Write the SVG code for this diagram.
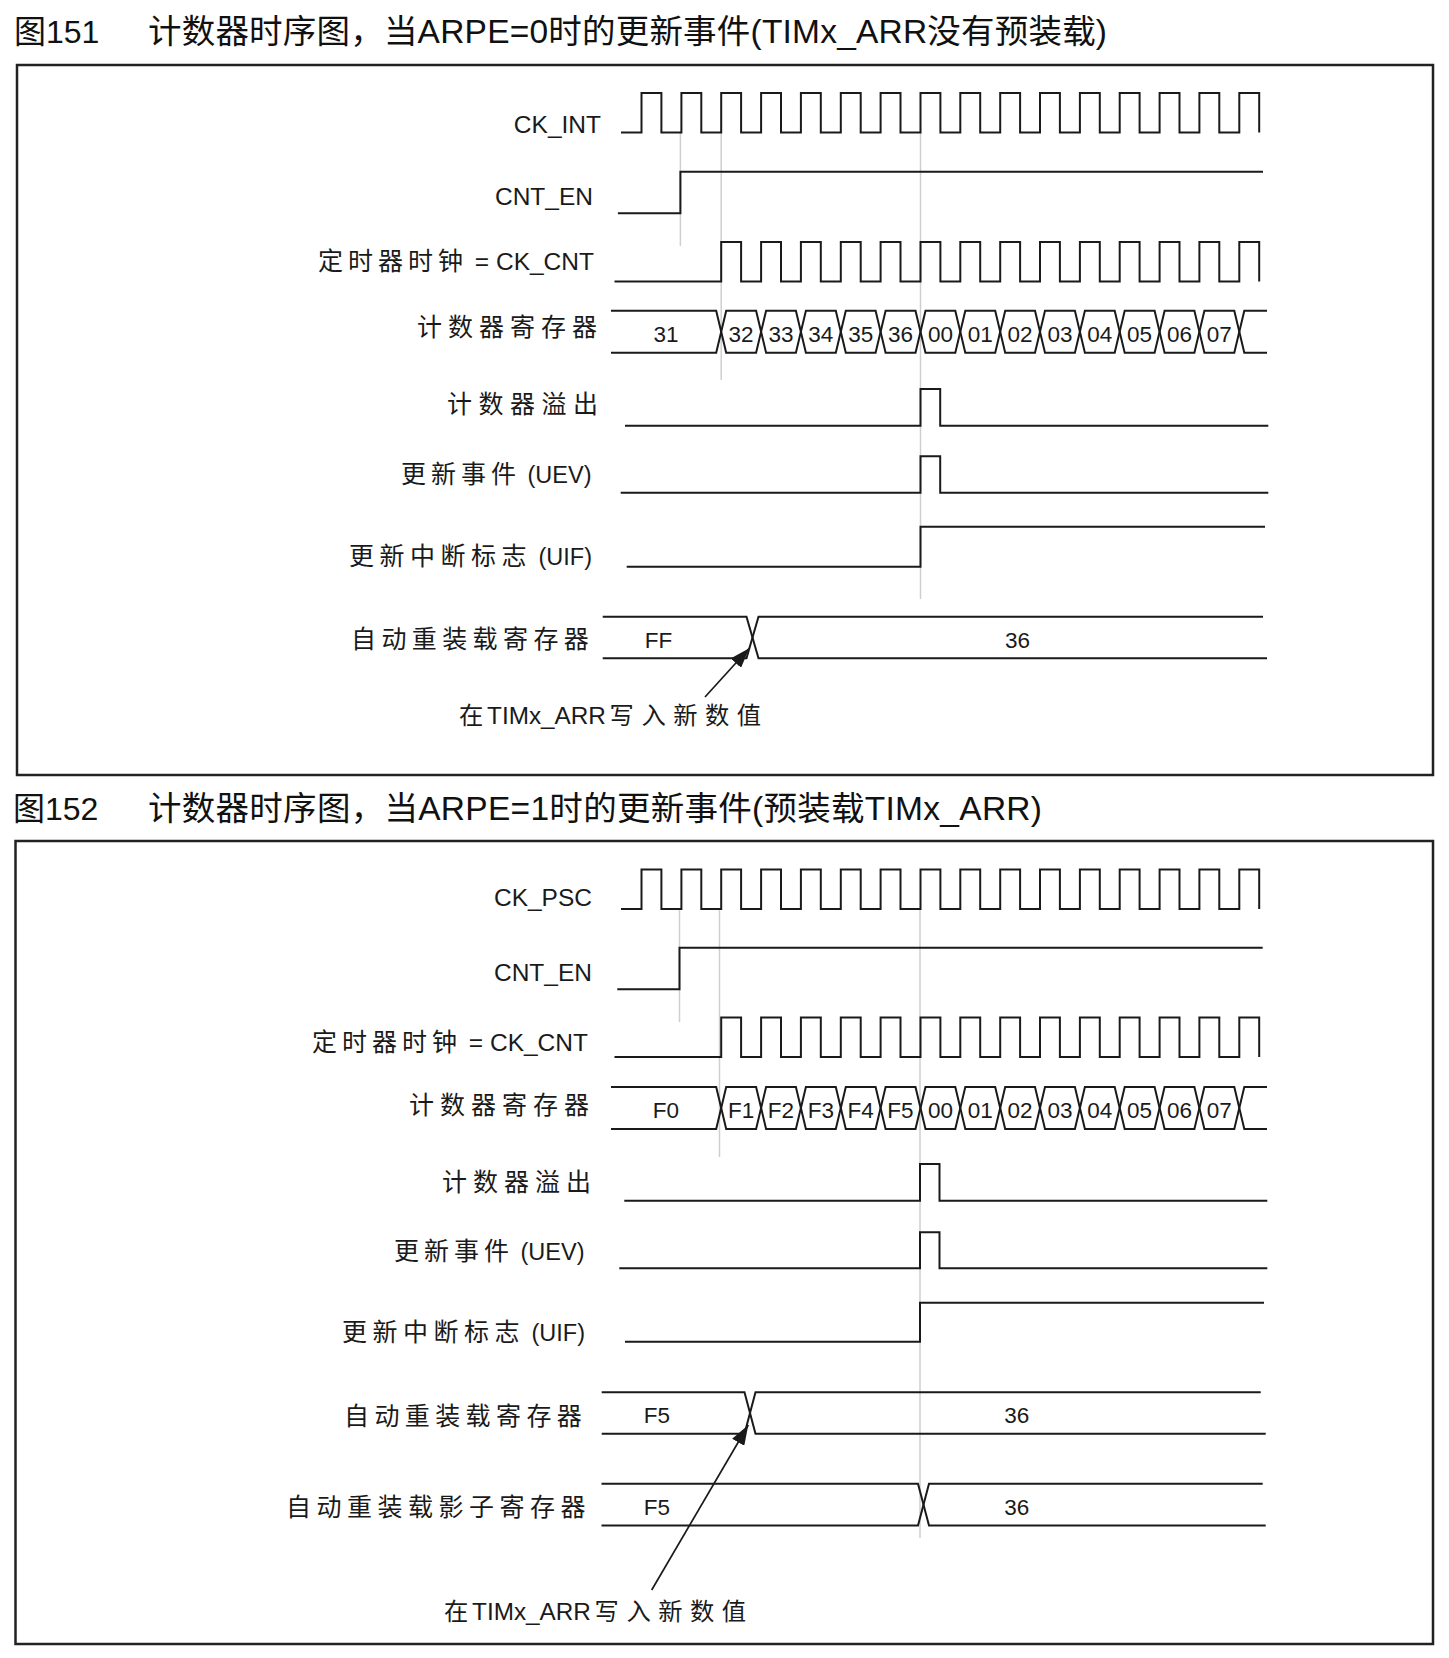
<svg xmlns="http://www.w3.org/2000/svg" xmlns:xlink="http://www.w3.org/1999/xlink" width="1449" height="1658" viewBox="0 0 1449 1658">
<style>
.bg{fill:#fff}
.frame{fill:none;stroke:#222;stroke-width:2.5}
.w{fill:none;stroke:#1a1a1a;stroke-width:2;stroke-linejoin:miter}
.g{fill:none;stroke:#cfcfcf;stroke-width:1.5}
.arr{fill:none;stroke:#1a1a1a;stroke-width:1.7}
text{font-family:"Liberation Sans","Noto Sans CJK SC",sans-serif;fill:#1a1a1a}
.title{font-size:33.5px;fill:#111}
.lbl{font-size:25px}
.lat{font-size:24.5px}
.par{font-size:23.5px}
.note{font-size:24.3px}
.val{font-size:22.5px;text-anchor:middle}
.end{text-anchor:end}
</style>
<defs>
<marker id="ah" markerUnits="userSpaceOnUse" markerWidth="20" markerHeight="14" refX="20" refY="7" orient="auto">
<path d="M0,0 L20,7 L0,14 z" fill="#1a1a1a"/>
</marker>
<path id="clk16" d="M621,39.5 H641.5 V0 H661.4 V39.5 H681.4 V0 H701.3 V39.5 H721.2 V0 H741.1 V39.5 H761.1 V0 H781 V39.5 H800.9 V0 H820.8 V39.5 H840.8 V0 H860.7 V39.5 H880.6 V0 H900.5 V39.5 H920.5 V0 H940.4 V39.5 H960.3 V0 H980.2 V39.5 H1000.2 V0 H1020.1 V39.5 H1040 V0 H1059.9 V39.5 H1079.9 V0 H1099.8 V39.5 H1119.7 V0 H1139.6 V39.5 H1159.6 V0 H1179.5 V39.5 H1199.4 V0 H1219.3 V39.5 H1239.3 V0 H1259.2 V39.5"/>
<path id="clk14" d="M614.5,39.5 H721.2 V0 H741.1 V39.5 H761.1 V0 H781 V39.5 H800.9 V0 H820.8 V39.5 H840.8 V0 H860.7 V39.5 H880.6 V0 H900.5 V39.5 H920.5 V0 H940.4 V39.5 H960.3 V0 H980.2 V39.5 H1000.2 V0 H1020.1 V39.5 H1040 V0 H1059.9 V39.5 H1079.9 V0 H1099.8 V39.5 H1119.7 V0 H1139.6 V39.5 H1159.6 V0 H1179.5 V39.5 H1199.4 V0 H1219.3 V39.5 H1239.3 V0 H1259.2 V39.5"/>
<g id="cntbus">
<path d="M611,0 H716.2 L726.2,42 H756.1 L766.1,0 H795.9 L805.9,42 H835.8 L845.8,0 H875.6 L885.6,42 H915.5 L925.5,0 H955.3 L965.3,42 H995.2 L1005.2,0 H1035 L1045,42 H1074.9 L1084.9,0 H1114.7 L1124.7,42 H1154.6 L1164.6,0 H1194.4 L1204.4,42 H1234.3 L1244.3,0 H1267"/>
<path d="M611,42 H716.2 L726.2,0 H756.1 L766.1,42 H795.9 L805.9,0 H835.8 L845.8,42 H875.6 L885.6,0 H915.5 L925.5,42 H955.3 L965.3,0 H995.2 L1005.2,42 H1035 L1045,0 H1074.9 L1084.9,42 H1114.7 L1124.7,0 H1154.6 L1164.6,42 H1194.4 L1204.4,0 H1234.3 L1244.3,42 H1267"/>
</g>
</defs>
<rect class="bg" x="0" y="0" width="1449" height="1658"/>

<!-- Figure 151 -->
<g id="fig151-title">
<text class="title" x="14" y="43" style="font-size:32px">图151</text>
<text class="title" x="148" y="43" textLength="959" lengthAdjust="spacing">计数器时序图，当ARPE=0时的更新事件(TIMx_ARR没有预装载)</text>
</g>
<rect id="fig151-frame" class="frame" x="17" y="65" width="1416" height="710"/>

<g id="fig151-guides">
<line class="g" x1="680.4" y1="132" x2="680.4" y2="246"/>
<line class="g" x1="721.2" y1="132" x2="721.2" y2="380"/>
<line class="g" x1="920.5" y1="132" x2="920.5" y2="599"/>
</g>

<g id="f1-ckint">
<text class="lat end" x="601" y="133">CK_INT</text>
<use xlink:href="#clk16" class="w" transform="translate(0,93)"/>
</g>
<g id="f1-cnten">
<text class="lat end" x="593" y="205">CNT_EN</text>
<path class="w" d="M617.9,213.3 H680.4 V171.7 H1263"/>
</g>
<g id="f1-ckcnt">
<text class="lbl" x="318" y="270"><tspan letter-spacing="5">定时器时钟</tspan><tspan class="lat"> = CK_CNT</tspan></text>
<use xlink:href="#clk14" class="w" transform="translate(0,242)"/>
</g>
<g id="f1-counter">
<text class="lbl" x="417" y="336" letter-spacing="6">计数器寄存器</text>
<use xlink:href="#cntbus" class="w" transform="translate(0,310.7)"/>
<text class="val" y="342"><tspan x="666">31</tspan><tspan x="741.1">32</tspan><tspan x="781">33</tspan><tspan x="820.8">34</tspan><tspan x="860.7">35</tspan><tspan x="900.5">36</tspan><tspan x="940.4">00</tspan><tspan x="980.2">01</tspan><tspan x="1020.1">02</tspan><tspan x="1059.9">03</tspan><tspan x="1099.8">04</tspan><tspan x="1139.6">05</tspan><tspan x="1179.5">06</tspan><tspan x="1219.3">07</tspan></text>
</g>
<g id="f1-overflow">
<text class="lbl" x="447" y="413" letter-spacing="6.5">计数器溢出</text>
<path class="w" d="M625,425.7 H920.5 V389 H940.2 V425.7 H1268.3"/>
</g>
<g id="f1-uev">
<text class="lbl" x="401" y="483"><tspan letter-spacing="5">更新事件</tspan><tspan class="par"> (UEV)</tspan></text>
<path class="w" d="M620.7,492.7 H920.5 V456.3 H940.2 V492.7 H1268.3"/>
</g>
<g id="f1-uif">
<text class="lbl" x="349" y="564.5"><tspan letter-spacing="5.5">更新中断标志</tspan><tspan class="par"> (UIF)</tspan></text>
<path class="w" d="M626.7,566.7 H920.5 V526.7 H1265"/>
</g>
<g id="f1-arr">
<text class="lbl" x="351" y="648" letter-spacing="5.4">自动重装载寄存器</text>
<path class="w" d="M602.7,616.7 H746.5 L758.5,658.3 H1267"/>
<path class="w" d="M602.7,658.3 H746.5 L758.5,616.7 H1263"/>
<text class="val" x="658.5" y="648">FF</text>
<text class="val" x="1017.5" y="648">36</text>
</g>
<g id="f1-note">
<text class="note" x="459" y="723.5" word-spacing="-3">在 TIMx_ARR <tspan letter-spacing="7.5">写入新数值</tspan></text>
</g>

<!-- Figure 152 -->
<g id="fig152-title">
<text class="title" x="13" y="820" style="font-size:32px">图152</text>
<text class="title" x="148" y="820" textLength="894" lengthAdjust="spacing">计数器时序图，当ARPE=1时的更新事件(预装载TIMx_ARR)</text>
</g>
<rect id="fig152-frame" class="frame" x="15.5" y="841" width="1417.5" height="803"/>

<g id="fig152-guides">
<line class="g" x1="679.5" y1="909" x2="679.5" y2="1022"/>
<line class="g" x1="719.5" y1="909" x2="719.5" y2="1157"/>
<line class="g" x1="920" y1="909" x2="920" y2="1538"/>
</g>

<g id="f2-ckpsc">
<text class="lat end" x="592" y="906">CK_PSC</text>
<use xlink:href="#clk16" class="w" transform="translate(0,869.5)"/>
</g>
<g id="f2-cnten">
<text class="lat end" x="592" y="981">CNT_EN</text>
<path class="w" d="M617.3,989.3 H679.5 V947.7 H1262.7"/>
</g>
<g id="f2-ckcnt">
<text class="lbl" x="312" y="1051"><tspan letter-spacing="5">定时器时钟</tspan><tspan class="lat"> = CK_CNT</tspan></text>
<use xlink:href="#clk14" class="w" transform="translate(0,1017.5)"/>
</g>
<g id="f2-counter">
<text class="lbl" x="409" y="1114" letter-spacing="6">计数器寄存器</text>
<use xlink:href="#cntbus" class="w" transform="translate(0,1087)"/>
<text class="val" y="1118"><tspan x="666">F0</tspan><tspan x="741.1">F1</tspan><tspan x="781">F2</tspan><tspan x="820.8">F3</tspan><tspan x="860.7">F4</tspan><tspan x="900.5">F5</tspan><tspan x="940.4">00</tspan><tspan x="980.2">01</tspan><tspan x="1020.1">02</tspan><tspan x="1059.9">03</tspan><tspan x="1099.8">04</tspan><tspan x="1139.6">05</tspan><tspan x="1179.5">06</tspan><tspan x="1219.3">07</tspan></text>
</g>
<g id="f2-overflow">
<text class="lbl" x="442" y="1191" letter-spacing="6">计数器溢出</text>
<path class="w" d="M624.3,1200.7 H920 V1164 H939.5 V1200.7 H1267.3"/>
</g>
<g id="f2-uev">
<text class="lbl" x="394" y="1259.5"><tspan letter-spacing="5">更新事件</tspan><tspan class="par"> (UEV)</tspan></text>
<path class="w" d="M619.3,1268.3 H920 V1232.3 H939.5 V1268.3 H1267.3"/>
</g>
<g id="f2-uif">
<text class="lbl" x="342" y="1341"><tspan letter-spacing="5.5">更新中断标志</tspan><tspan class="par"> (UIF)</tspan></text>
<path class="w" d="M625,1341.7 H920 V1302.7 H1264"/>
</g>
<g id="f2-arr">
<text class="lbl" x="344" y="1424.5" letter-spacing="5.4">自动重装载寄存器</text>
<path class="w" d="M601.7,1392.3 H744.5 L755.5,1433.8 H1265.7"/>
<path class="w" d="M601.7,1433.8 H744.5 L755.5,1392.3 H1260.7"/>
<text class="val" x="657" y="1423">F5</text>
<text class="val" x="1016.7" y="1423">36</text>
</g>
<g id="f2-shadow">
<text class="lbl" x="286" y="1516" letter-spacing="5.5">自动重装载影子寄存器</text>
<path class="w" d="M601.5,1483.7 H918 L929,1525.5 H1265.7"/>
<path class="w" d="M601.5,1525.5 H918 L929,1483.7 H1262.7"/>
<text class="val" x="657" y="1515">F5</text>
<text class="val" x="1016.7" y="1515">36</text>
</g>
<g id="f2-note">
<text class="note" x="444" y="1619.5" word-spacing="-3">在 TIMx_ARR <tspan letter-spacing="7.5">写入新数值</tspan></text>
</g>

<g id="connectors">
<line class="arr" x1="705" y1="697" x2="749.3" y2="648.3" marker-end="url(#ah)"/>
<line class="arr" x1="651.7" y1="1590" x2="748.3" y2="1425" marker-end="url(#ah)"/>
</g>
</svg>
